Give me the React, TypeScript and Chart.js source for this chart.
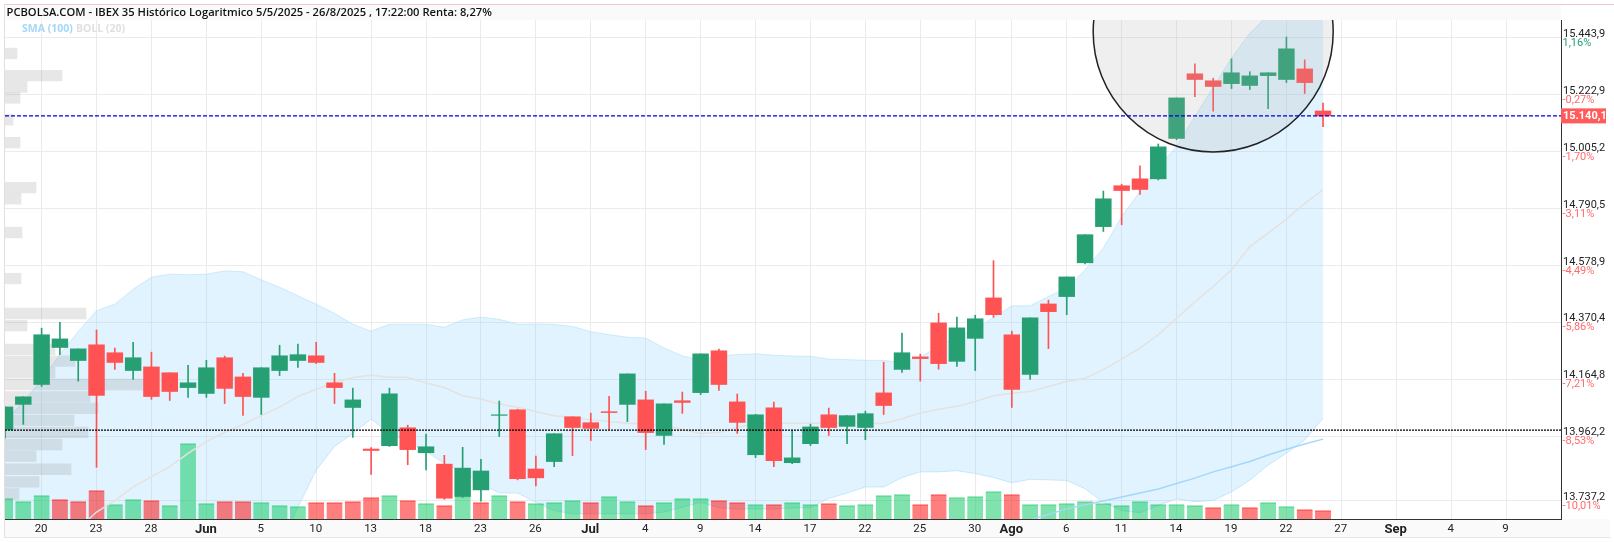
import React, { useEffect, useRef } from 'react';
import { Chart, registerables } from 'chart.js';

Chart.register(...registerables);

// Trading days, the tail runs on past the last candle to the end of the axis
const days = [
  '16/5', '19/5', '20/5', '21/5', '22/5', '23/5', '26/5', '27/5', '28/5', '29/5', '30/5',
  '2/6', '3/6', '4/6', '5/6', '6/6', '9/6', '10/6', '11/6', '12/6', '13/6',
  '16/6', '17/6', '18/6', '19/6', '20/6', '23/6', '24/6', '25/6', '26/6', '27/6', '30/6',
  '1/7', '2/7', '3/7', '4/7', '7/7', '8/7', '9/7', '10/7', '11/7',
  '14/7', '15/7', '16/7', '17/7', '18/7', '21/7', '22/7', '23/7', '24/7', '25/7',
  '28/7', '29/7', '30/7', '31/7', '1/8', '4/8', '5/8', '6/8', '7/8', '8/8',
  '11/8', '12/8', '13/8', '14/8', '15/8', '18/8', '19/8', '20/8', '21/8', '22/8',
  '25/8', '26/8', '27/8', '28/8', '29/8', '1/9', '2/9', '3/9', '4/9', '5/9',
  '8/9', '9/9', '10/9', '11/9', '12/9',
];

const xTickDays = ['20/5', '23/5', '28/5', '2/6', '5/6', '10/6', '13/6', '18/6', '23/6', '26/6', '1/7', '4/7', '9/7', '14/7', '17/7', '22/7', '25/7', '30/7', '1/8', '6/8', '11/8', '14/8', '19/8', '22/8', '27/8', '1/9', '4/9', '9/9'];
const xTickLabels = ['20', '23', '28', 'Jun', '5', '10', '13', '18', '23', '26', 'Jul', '4', '9', '14', '17', '22', '25', '30', 'Ago', '6', '11', '14', '19', '22', '27', 'Sep', '4', '9'];
const monthLabels = ['Jun', 'Jul', 'Ago', 'Sep'];

const priceTicks = [15443.9, 15222.9, 15005.2, 14790.5, 14578.9, 14370.4, 14164.8, 13962.2, 13737.2];
const priceTickLabels = ['15.443,9', '15.222,9', '15.005,2', '14.790,5', '14.578,9', '14.370,4', '14.164,8', '13.962,2', '13.737,2'];
const pctLabels = ['1,16%', '-0,27%', '-1,70%', '-3,11%', '-4,49%', '-5,86%', '-7,21%', '-8,53%', '-10,01%'];

const opens = [13985, 14075, 14146, 14279, 14232, 14289, 14260, 14196, 14209, 14188, 14135, 14114, 14242, 14173, 14100, 14196, 14232, 14249, 14152, 14064, 13917, 13929, 13992, 13904, 13864, 13751, 13774, 14036, 14056, 13847, 13873, 14031, 14010, 14049, 14075, 14091, 13965, 14088, 14117, 14267, 14084, 13897, 14063, 13869, 13936, 14038, 13997, 13993, 14116, 14200, 14245, 14368, 14229, 14312, 14459, 14325, 14182, 14437, 14464, 14588, 14722, 14875, 14901, 14901, 15054, 15302, 15275, 15264, 15257, 15295, 15280, 15321, 15159];
const highs = [14066, 14102, 14349, 14370, 14274, 14342, 14277, 14298, 14262, 14188, 14215, 14233, 14248, 14186, 14206, 14287, 14291, 14298, 14186, 14133, 13922, 14133, 14001, 13970, 13895, 13923, 13881, 14087, 14058, 13892, 13971, 14031, 14044, 14104, 14184, 14122, 14077, 14119, 14256, 14273, 14112, 14040, 14083, 13984, 14005, 14062, 14035, 14051, 14226, 14331, 14255, 14403, 14389, 14396, 14596, 14338, 14386, 14451, 14536, 14692, 14855, 14881, 14950, 15033, 15209, 15341, 15285, 15360, 15310, 15306, 15445, 15356, 15189];
const lows = [13955, 14004, 14139, 14253, 14158, 13853, 14200, 14164, 14093, 14089, 14100, 14100, 14078, 14036, 14039, 14178, 14207, 14221, 14078, 13958, 13828, 13926, 13862, 13844, 13741, 13748, 13735, 13961, 13809, 13788, 13855, 13894, 13947, 13986, 14014, 13915, 13933, 14043, 14110, 14125, 13972, 13887, 13855, 13866, 13929, 13965, 13936, 13950, 14039, 14189, 14158, 14201, 14211, 14196, 14388, 14064, 14164, 14275, 14398, 14584, 14704, 14729, 14842, 14897, 15049, 15214, 15158, 15245, 15241, 15168, 15268, 15226, 15099];
const closes = [14066, 14102, 14325, 14310, 14274, 14107, 14225, 14242, 14103, 14121, 14152, 14206, 14132, 14103, 14206, 14249, 14253, 14225, 14135, 14091, 13912, 14113, 13915, 13925, 13745, 13850, 13840, 14038, 13813, 13816, 13971, 13993, 13990, 14046, 14184, 13975, 14077, 14082, 14256, 14146, 14011, 14038, 13876, 13886, 13995, 13993, 14035, 14042, 14071, 14260, 14239, 14221, 14350, 14383, 14398, 14128, 14386, 14409, 14536, 14692, 14826, 14857, 14861, 15022, 15209, 15280, 15253, 15306, 15294, 15306, 15399, 15268, 15140];

const volumes = [62, 53, 71, 59, 53, 86, 44, 59, 56, 41, 227, 47, 53, 53, 50, 41, 38, 50, 50, 53, 65, 71, 56, 47, 41, 69, 50, 71, 53, 47, 50, 56, 50, 68, 53, 41, 50, 62, 62, 56, 50, 44, 44, 50, 44, 47, 41, 44, 71, 74, 44, 74, 65, 68, 83, 74, 44, 44, 47, 53, 47, 41, 53, 44, 44, 41, 35, 44, 35, 50, 38, 29, 26];
const volumeUp = [1, 1, 1, 0, 0, 0, 1, 1, 0, 1, 1, 1, 0, 0, 1, 1, 1, 0, 0, 0, 0, 1, 0, 1, 0, 1, 0, 1, 0, 1, 1, 1, 0, 1, 1, 0, 1, 1, 1, 0, 0, 1, 0, 1, 1, 0, 1, 1, 1, 1, 0, 0, 1, 1, 1, 0, 1, 1, 1, 1, 1, 1, 1, 1, 1, 1, 0, 1, 0, 1, 1, 0, 0];

const bollUpper = [14014, 14085, 14162, 14253, 14337, 14412, 14436, 14491, 14535, 14546, 14544, 14546, 14558, 14555, 14525, 14498, 14467, 14436, 14403, 14363, 14338, 14363, 14363, 14363, 14352, 14379, 14389, 14381, 14363, 14364, 14363, 14355, 14336, 14325, 14316, 14313, 14277, 14249, 14232, 14249, 14253, 14256, 14251, 14248, 14247, 14237, 14235, 14233, 14232, 14225, 14244, 14283, 14319, 14345, 14388, 14430, 14430, 14464, 14495, 14562, 14642, 14760, 14853, 14948, 15023, 15138, 15250, 15363, 15460, 15531, 15580, 15620, 15640];
const bollLower = [13650, 13620, 13580, 13540, 13500, 13460, 13420, 13430, 13450, 13470, 13490, 13510, 13530, 13555, 13570, 13584, 13713, 13843, 13926, 13973, 14023, 13973, 13943, 13908, 13867, 13837, 13796, 13763, 13763, 13731, 13702, 13691, 13691, 13691, 13691, 13691, 13697, 13714, 13731, 13712, 13707, 13708, 13707, 13711, 13712, 13744, 13763, 13784, 13784, 13817, 13837, 13837, 13841, 13831, 13817, 13799, 13811, 13809, 13807, 13778, 13731, 13702, 13695, 13720, 13743, 13733, 13737, 13767, 13808, 13861, 13902, 13949, 14026];
const bollMiddle = [null, null, null, null, 13639, 13697, 13737, 13784, 13820, 13855, 13902, 13943, 13976, 14003, 14035, 14065, 14103, 14129, 14153, 14171, 14179, 14172, 14172, 14151, 14135, 14106, 14094, 14076, 14065, 14050, 14035, 14029, 14020, 14014, 14008, 14005, 13999, 13987, 13972, 13975, 13994, 14005, 14008, 14008, 14008, 14008, 14008, 14006, 14008, 14024, 14044, 14058, 14068, 14085, 14106, 14115, 14121, 14139, 14157, 14168, 14199, 14237, 14277, 14325, 14385, 14444, 14501, 14562, 14648, 14698, 14750, 14809, 14860];
const smaDays = ['4/8', '5/8', '6/8', '7/8', '8/8', '11/8', '12/8', '13/8', '14/8', '15/8', '18/8', '19/8', '20/8', '21/8', '22/8', '25/8', '26/8'];
const smaValues = [13670, 13689, 13708, 13722, 13735, 13749, 13763, 13777, 13796, 13815, 13837, 13855, 13873, 13896, 13916, 13935, 13952];

// Volume by price rows at the left edge
const profilePrices = [15381, 15295, 15251, 15209, 15125, 15038, 14868, 14826, 14700, 14530, 14402, 14358, 14272, 14230, 14189, 14146, 14102, 14061, 14018, 13976, 13933, 13892, 13846, 13802, 13760];
const profileSizes = [12, 57, 22, 15, 8, 15, 31, 16, 17, 16, 81, 22, 50, 70, 50, 140, 85, 93, 69, 83, 57, 31, 66, 34, 14];

const lastPrice = 15140.1;
const referencePrice = 13983.5;
const circleDay = '18/8';
const circlePrice = 15465;

const UP = '#26A072';
const DOWN = '#FF5252';
const TICK_FONT = 'Roboto';

const textPlugin = {
  id: 'pcbolsaFrame',
  beforeDraw(chart: any) {
    const { ctx } = chart;
    ctx.save();
    ctx.fillStyle = '#fff';
    ctx.fillRect(0, 0, 1614, 542);
    ctx.fillStyle = '#FAFAFA';
    ctx.fillRect(5, 5, 1556, 15);
    ctx.fillRect(5, 519, 1605, 18);
    ctx.fillStyle = '#F0C8CC';
    ctx.fillRect(5, 4, 1609, 1);
    ctx.fillStyle = '#E8DCDC';
    ctx.fillRect(4, 4, 1, 534);
    ctx.fillStyle = '#E6E6E6';
    ctx.fillRect(5, 537, 1605, 1);
    ctx.restore();
  },
  afterDraw(chart: any) {
    const { ctx, scales } = chart;
    ctx.save();
    ctx.textBaseline = 'middle';
    ctx.textAlign = 'left';

    ctx.fillStyle = '#111';
    ctx.font = '600 11.2px "Open Sans"';
    ctx.fillText('PCBOLSA.COM - IBEX 35 Histórico Logaritmico 5/5/2025 - 26/8/2025 , 17:22:00 Renta: 8,27%', 6.5, 12.5);

    ctx.font = '700 10.5px "Open Sans"';
    ctx.fillStyle = '#A5D7FB';
    ctx.fillText('SMA (100)', 22, 29);
    ctx.fillStyle = '#E0E0E0';
    ctx.fillText('BOLL (20)', 76, 29);

    // percent line below each price label
    ctx.font = `11px ${TICK_FONT}`;
    priceTicks.forEach((value, i) => {
      ctx.fillStyle = i === 0 ? UP : '#FF6B6B';
      ctx.fillText(pctLabels[i], 1562.5, scales.y.getPixelForValue(value) + 5.5);
    });

    // last price box
    const y = scales.y.getPixelForValue(lastPrice);
    ctx.fillStyle = '#FF5B5B';
    ctx.fillRect(1561, y - 7.5, 45, 15);
    ctx.fillStyle = '#fff';
    ctx.font = `700 11px ${TICK_FONT}`;
    ctx.fillText('15.140,1', 1563, y + 0.5);
    ctx.restore();
  },
};

export default function App() {
  const chartRef = useRef<HTMLCanvasElement>(null);

  useEffect(() => {
    if (!chartRef.current) return;

    const candleColors = opens.map((o, i) => (closes[i] >= o ? UP : DOWN));
    const flat = (value: number) => days.map(() => value);

    const chart = new Chart(chartRef.current, {
      type: 'bar',
      plugins: [textPlugin],
      data: {
        labels: days,
        datasets: [
          {
            type: 'line',
            label: 'BOLL upper',
            data: bollUpper,
            order: 20,
            fill: '+1',
            backgroundColor: 'rgba(135, 206, 250, 0.25)',
            borderColor: 'rgba(190, 226, 250, 0.7)',
            borderWidth: 1,
            pointRadius: 0,
          },
          {
            type: 'line',
            label: 'BOLL lower',
            data: bollLower,
            order: 20,
            borderColor: 'rgba(190, 226, 250, 0.7)',
            borderWidth: 1,
            pointRadius: 0,
          },
          {
            type: 'bar',
            label: 'Volume',
            data: volumes,
            yAxisID: 'volume',
            order: 18,
            grouped: false,
            barThickness: 15.8,
            backgroundColor: volumeUp.map((u) => (u ? 'rgba(1, 197, 89, 0.5)' : 'rgba(255, 0, 0, 0.5)')),
            borderColor: volumeUp.map((u) => (u ? 'rgba(1, 197, 89, 0.35)' : 'rgba(255, 0, 0, 0.35)')),
            borderWidth: { top: 1, left: 0, right: 0, bottom: 0 },
            borderSkipped: false,
          },
          {
            type: 'bar',
            label: 'Profile',
            indexAxis: 'y',
            data: profilePrices.map((p, i) => ({ x: profileSizes[i], y: p })),
            xAxisID: 'profile',
            yAxisID: 'y',
            order: 16,
            grouped: false,
            barThickness: 10.7,
            backgroundColor: 'rgba(120, 120, 120, 0.18)',
          },
          {
            type: 'line',
            label: 'BOLL (20)',
            data: bollMiddle,
            order: 14,
            borderColor: '#E5E1DF',
            borderWidth: 1.5,
            pointRadius: 0,
          },
          {
            type: 'line',
            label: 'SMA (100)',
            data: smaDays.map((d, i) => ({ x: d, y: smaValues[i] })),
            order: 14,
            borderColor: '#A5D7FB',
            borderWidth: 1.5,
            pointRadius: 0,
          },
          {
            type: 'bar',
            label: 'Wicks',
            data: lows.map((l, i) => [l, highs[i]]),
            order: 12,
            grouped: false,
            barThickness: 1,
            backgroundColor: candleColors,
          },
          {
            type: 'bar',
            label: 'Bodies',
            data: opens.map((o, i) => [o, closes[i]]),
            order: 10,
            grouped: false,
            barThickness: 15.8,
            backgroundColor: candleColors,
          },
          {
            type: 'line',
            label: 'Circle',
            data: [{ x: circleDay, y: circlePrice }],
            order: 5,
            clip: 0,
            showLine: false,
            pointRadius: 120,
            pointBackgroundColor: 'rgba(173, 173, 173, 0.2)',
            pointBorderColor: '#222',
            pointBorderWidth: 1.5,
          },
          {
            type: 'line',
            label: 'Last',
            data: flat(lastPrice),
            order: 2,
            borderColor: '#0000D8',
            borderWidth: 1.3,
            borderDash: [4, 2],
            pointRadius: 0,
          },
          {
            type: 'line',
            label: 'Reference',
            data: flat(referencePrice),
            order: 2,
            borderColor: '#000',
            borderWidth: 1.3,
            borderDash: [2, 1],
            pointRadius: 0,
          },
        ],
      } as any,
      options: {
        responsive: false,
        animation: false,
        layout: { autoPadding: false, padding: { left: 5, top: 20, right: 0, bottom: 5 } },
        plugins: {
          legend: { display: false },
          tooltip: { enabled: false },
        },
        scales: {
          x: {
            type: 'category',
            offset: false,
            grid: { offset: false, color: '#EBEBEB', drawTicks: false },
            border: { color: '#333', width: 1 },
            afterBuildTicks: (scale: any) => {
              scale.ticks = xTickDays.map((d) => ({ value: days.indexOf(d) }));
            },
            afterFit: (scale: any) => {
              scale.height = 18;
            },
            ticks: {
              autoSkip: false,
              maxRotation: 0,
              padding: 3,
              labelOffset: -0.5,
              color: '#222',
              font: (ctx: any) =>
                monthLabels.includes(ctx.tick?.label)
                  ? { family: TICK_FONT, size: 13, weight: 'bold' }
                  : { family: TICK_FONT, size: 11.5 },
              callback: (_value: any, i: number) => xTickLabels[i],
            },
          },
          y: {
            type: 'logarithmic',
            position: 'right',
            offset: false,
            min: 13673,
            max: 15511.6,
            grid: { offset: false, color: '#EBEBEB', drawTicks: false },
            border: { color: '#333', width: 1 },
            afterBuildTicks: (scale: any) => {
              scale.ticks = priceTicks.map((value) => ({ value }));
            },
            afterFit: (scale: any) => {
              scale.width = 53;
            },
            ticks: {
              padding: 2,
              color: '#222',
              font: { family: TICK_FONT, size: 11, lineHeight: '7px' },
              callback: (_value: any, i: number) => [priceTickLabels[i], ''],
            },
          },
          // hidden helper axes, they must not pick up the hooks of x and y
          volume: {
            type: 'linear',
            axis: 'y',
            display: false,
            offset: false,
            min: 0,
            max: 1497,
            afterBuildTicks: () => {},
            afterFit: () => {},
          },
          profile: {
            type: 'linear',
            axis: 'x',
            display: false,
            offset: false,
            min: 0,
            max: 1556,
            afterBuildTicks: () => {},
            afterFit: () => {},
          },
        },
      } as any,
    });

    return () => {
      chart.destroy();
    };
  }, []);

  return (
    <div style={{ position: 'fixed', left: 0, top: 0, width: 1614, height: 542, background: '#fff' }}>
      <canvas ref={chartRef} width={1614} height={542} style={{ display: 'block' }} />
    </div>
  );
}
